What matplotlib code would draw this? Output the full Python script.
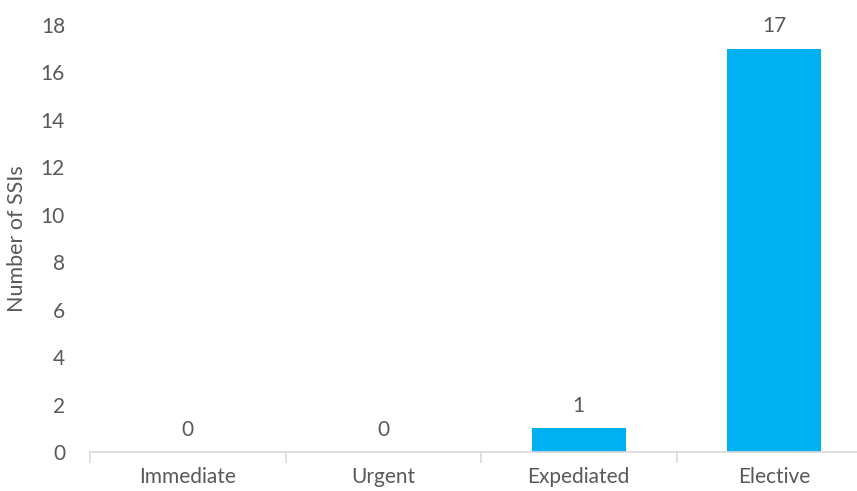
import matplotlib.pyplot as plt
import numpy as np

categories = ["Immediate", "Urgent", "Expediated", "Elective"]
ssi_counts = [0, 0, 1, 17]
y_ticks = [0, 2, 4, 6, 8, 10, 12, 14, 16, 18]

TEXT = "#595959"
GRID = "#D9D9D9"
BAR = "#00B0F0"

plt.rcParams["font.family"] = ["Lato", "DejaVu Sans"]

fig = plt.figure(figsize=(8.57, 4.91), dpi=100)
ax = fig.add_axes([90 / 857, 39 / 491, 782 / 857, 427 / 491])

x = np.arange(len(categories))
bars = ax.bar(x, ssi_counts, width=0.48, color=BAR, zorder=2)

for bar, value in zip(bars, ssi_counts):
    ax.annotate(str(value), (bar.get_x() + bar.get_width() / 2, value),
                xytext=(0, 9), textcoords="offset points",
                ha="center", va="bottom", fontsize=15, color=TEXT)

ax.set_xlim(-0.5, len(categories) - 0.5)
ax.set_ylim(0, 18)
ax.set_yticks(y_ticks)
ax.set_xticks(x)
ax.set_xticklabels(categories)
ax.set_xticks(np.arange(-0.5, len(categories)), minor=True)

ax.tick_params(axis="y", length=0, labelsize=15, labelcolor=TEXT, pad=18)
ax.tick_params(axis="x", which="major", length=0, labelsize=15, labelcolor=TEXT, pad=11)
ax.tick_params(axis="x", which="minor", length=8, color=GRID, width=1.2)

for side in ("top", "right", "left"):
    ax.spines[side].set_visible(False)
ax.spines["bottom"].set_color(GRID)
ax.spines["bottom"].set_linewidth(1.2)

ax.set_ylabel("Number of SSIs", fontsize=15.5, color=TEXT, labelpad=10)

fig.savefig("out.png", dpi=100)
